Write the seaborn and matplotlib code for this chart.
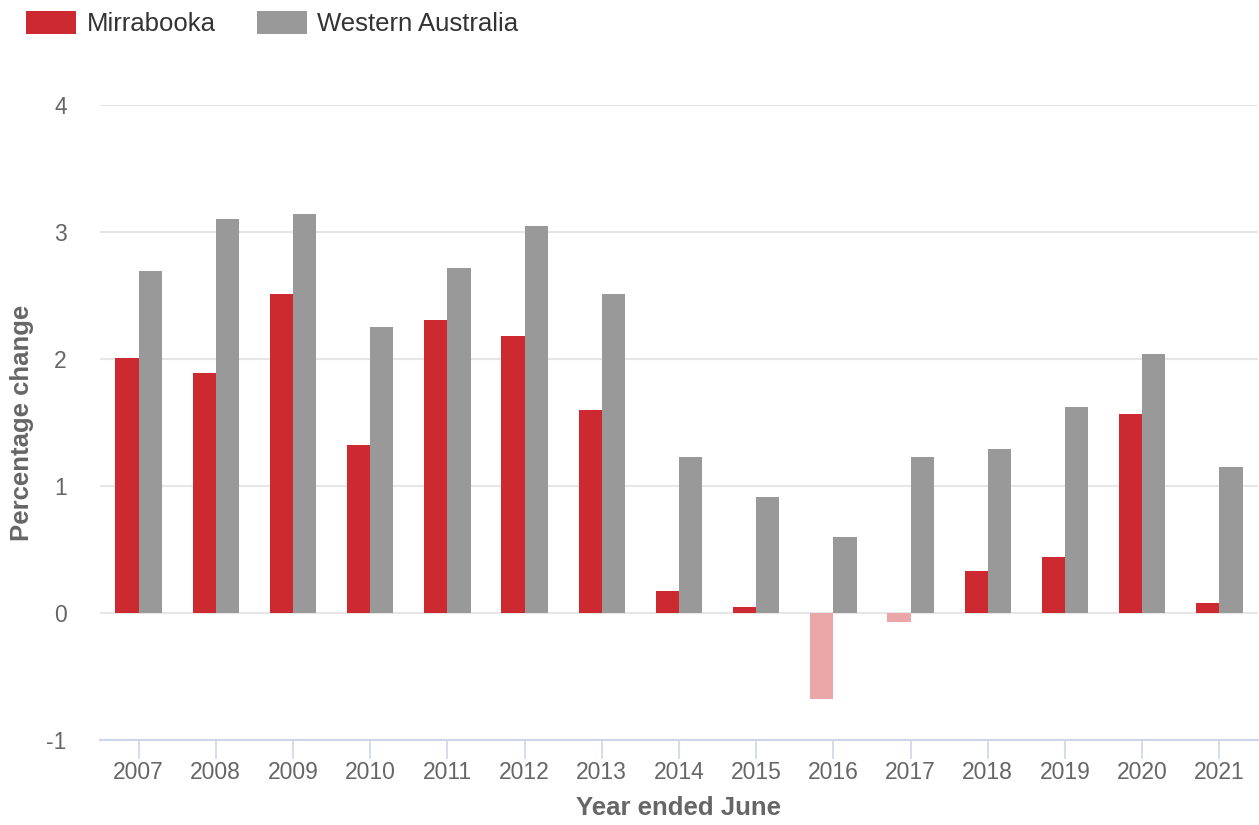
import matplotlib
matplotlib.use("Agg")
import matplotlib.pyplot as plt
import seaborn as sns
import pandas as pd
from matplotlib.patches import Patch

years = ["2007", "2008", "2009", "2010", "2011", "2012", "2013", "2014",
         "2015", "2016", "2017", "2018", "2019", "2020", "2021"]
mirrabooka = [2.01, 1.89, 2.51, 1.32, 2.31, 2.18, 1.60, 0.17,
              0.05, -0.68, -0.07, 0.33, 0.44, 1.57, 0.08]
western_australia = [2.69, 3.10, 3.14, 2.25, 2.72, 3.05, 2.51, 1.23,
                     0.91, 0.60, 1.23, 1.29, 1.62, 2.04, 1.15]
series_names = ["Mirrabooka", "Western Australia"]
colors = {"Mirrabooka": "#cc2a30", "Western Australia": "#999999"}
neg_color = "#eba6a8"

df = pd.DataFrame({
    "year": years * 2,
    "value": mirrabooka + western_australia,
    "series": [series_names[0]] * len(years) + [series_names[1]] * len(years),
})

sns.set_theme(style="white")
plt.rcParams["font.family"] = ["Liberation Sans", "DejaVu Sans"]

W, H = 1259, 825
fig = plt.figure(figsize=(W / 100, H / 100), dpi=100)
ax = fig.add_axes([100 / W, (H - 740) / H, 1158 / W, (740 - 105) / H])

sns.barplot(data=df, x="year", y="value", hue="series", palette=colors,
            width=0.6, ax=ax, legend=False, saturation=1, errorbar=None)

for bar in ax.patches:
    bar.set_linewidth(0)
    if bar.get_height() < 0 and bar.get_facecolor()[:3] == matplotlib.colors.to_rgb(colors["Mirrabooka"]):
        bar.set_facecolor(neg_color)

ax.set_ylim(-1, 4)
ax.set_xlim(-0.5, len(years) - 0.5)
ax.set_yticks([-1, 0, 1, 2, 3, 4])
ax.set_yticklabels(["-1", "0", "1", "2", "3", "4"])
ax.yaxis.grid(True, color="#e6e6e6", linewidth=1.5)
ax.set_axisbelow(True)
for s in ["top", "right", "left"]:
    ax.spines[s].set_visible(False)
ax.spines["bottom"].set_color("#ccd6eb")
ax.spines["bottom"].set_linewidth(1.5)
ax.tick_params(axis="x", length=14, width=1.2, color="#ccd6eb", bottom=True,
               labelsize=16.5, labelcolor="#666666", pad=1)
ax.tick_params(axis="y", length=0, labelsize=16.5, labelcolor="#666666", pad=24)
ax.set_xlabel("Year ended June", fontsize=18.5, fontweight="bold", color="#666666", labelpad=9)
ax.set_ylabel("Percentage change", fontsize=18.5, fontweight="bold", color="#666666")
ax.yaxis.set_label_coords(-66 / 1158, 0.5)

handles = [Patch(facecolor=colors[n], edgecolor="none", label=n) for n in series_names]
fs = 18.5
fig.legend(handles=handles, loc="upper left", bbox_to_anchor=(16 / W, 1 - 1 / H),
           frameon=False, fontsize=fs, ncol=2, handlelength=50 / (fs * 100 / 72),
           handleheight=25 / (fs * 100 / 72), handletextpad=0.4, columnspacing=1.6,
           labelcolor="#333333", borderaxespad=0)

fig.savefig("out.png", dpi=100)
